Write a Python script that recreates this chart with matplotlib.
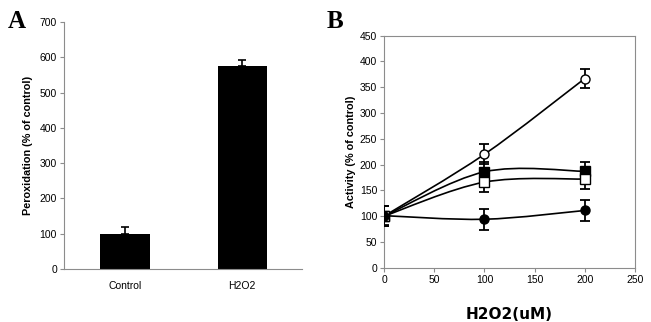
import matplotlib.pyplot as plt
import numpy as np
from matplotlib.path import Path
from matplotlib.patches import PathPatch

plt.rcParams['font.family'] = ['Liberation Sans', 'DejaVu Sans']

# panel A data
groups = ['Control', 'H2O2']
perox = [100, 575]
perox_err = [20, 18]

# panel B data
dose = [0, 100, 200]
open_circ = [100, 220, 367]
open_circ_err = [19, 19, 19]
fill_sq = [100, 186, 187]
fill_sq_err = [19, 20, 19]
open_sq = [100, 166, 172]
open_sq_err = [19, 19, 19]
fill_circ = [101, 94, 111]
fill_circ_err = [19, 20, 20]

grey = '#8c8c8c'


def smooth_path(x, y):
    # excel style smoothed line: cubic bezier through the points
    x = np.asarray(x, float)
    y = np.asarray(y, float)
    pts = np.column_stack([x, y])
    n = len(pts)
    verts = [pts[0]]
    codes = [Path.MOVETO]
    for i in range(n - 1):
        p0 = pts[i - 1] if i > 0 else pts[i]
        p1 = pts[i]
        p2 = pts[i + 1]
        p3 = pts[i + 2] if i + 2 < n else pts[i + 1]
        c1 = p1 + (p2 - p0) / 6
        c2 = p2 - (p3 - p1) / 6
        verts += [c1, c2, p2]
        codes += [Path.CURVE4] * 3
    return Path(verts, codes)


fig = plt.figure(figsize=(6.51, 3.22), dpi=100)

# ---- A ----
ax1 = fig.add_axes([0.0983, 0.1646, 0.3656, 0.767])
xpos = np.arange(len(groups))
ax1.bar(xpos, perox, width=0.42, color='black')
ax1.errorbar(xpos, perox, yerr=[[0, 0], perox_err], fmt='none',
             ecolor='black', elinewidth=1.2, capsize=3, capthick=1.2)
ax1.set_xlim(-0.52, 1.51)
ax1.set_ylim(0, 700)
ax1.set_yticks(range(0, 701, 100))
ax1.set_xticks(xpos)
ax1.set_xticklabels(groups)
ax1.spines['top'].set_visible(False)
ax1.spines['right'].set_visible(False)
for s in ['left', 'bottom']:
    ax1.spines[s].set_color(grey)
ax1.tick_params(axis='y', length=3, color=grey, labelsize=7.5, pad=2)
ax1.tick_params(axis='x', length=0, labelsize=7.5, pad=9)
ax1.set_ylabel('Peroxidation (% of control)', fontsize=7.8,
               fontweight='bold', labelpad=5)

# ---- B ----
ax2 = fig.add_axes([0.5899, 0.1686, 0.3855, 0.7205])
series = [
    (open_circ, open_circ_err, 'o', 'white'),
    (fill_sq, fill_sq_err, 's', 'black'),
    (open_sq, open_sq_err, 's', 'white'),
    (fill_circ, fill_circ_err, 'o', 'black'),
]
for vals, err, mk, fc in series:
    ax2.add_patch(PathPatch(smooth_path(dose, vals), facecolor='none',
                            edgecolor='black', lw=1.2, zorder=2))
    ax2.errorbar(dose, vals, yerr=err, fmt='none', ecolor='black',
                 elinewidth=1.3, capsize=3.5, capthick=1.3, zorder=3)
    ax2.plot(dose, vals, linestyle='none', marker=mk, markersize=6.5,
             markerfacecolor=fc, markeredgecolor='black',
             markeredgewidth=1, zorder=4)
ax2.set_xlim(0, 250)
ax2.set_ylim(0, 450)
ax2.set_xticks(range(0, 251, 50))
ax2.set_yticks(range(0, 451, 50))
for s in ax2.spines.values():
    s.set_color(grey)
ax2.tick_params(length=3, color=grey, labelsize=7.5, pad=2)
ax2.set_ylabel('Activity (% of control)', fontsize=7.8, fontweight='bold',
               labelpad=3)
ax2.set_xlabel('H2O2(uM)', fontsize=11, fontweight='bold',
               family='DejaVu Sans', labelpad=16)

fig.text(8 / 651, 1 - 28 / 322, 'A', fontsize=18, fontweight='bold',
         family='Liberation Serif', va='baseline')
fig.text(327 / 651, 1 - 28 / 322, 'B', fontsize=18, fontweight='bold',
         family='Liberation Serif', va='baseline')

fig.savefig('out.png', dpi=100)
